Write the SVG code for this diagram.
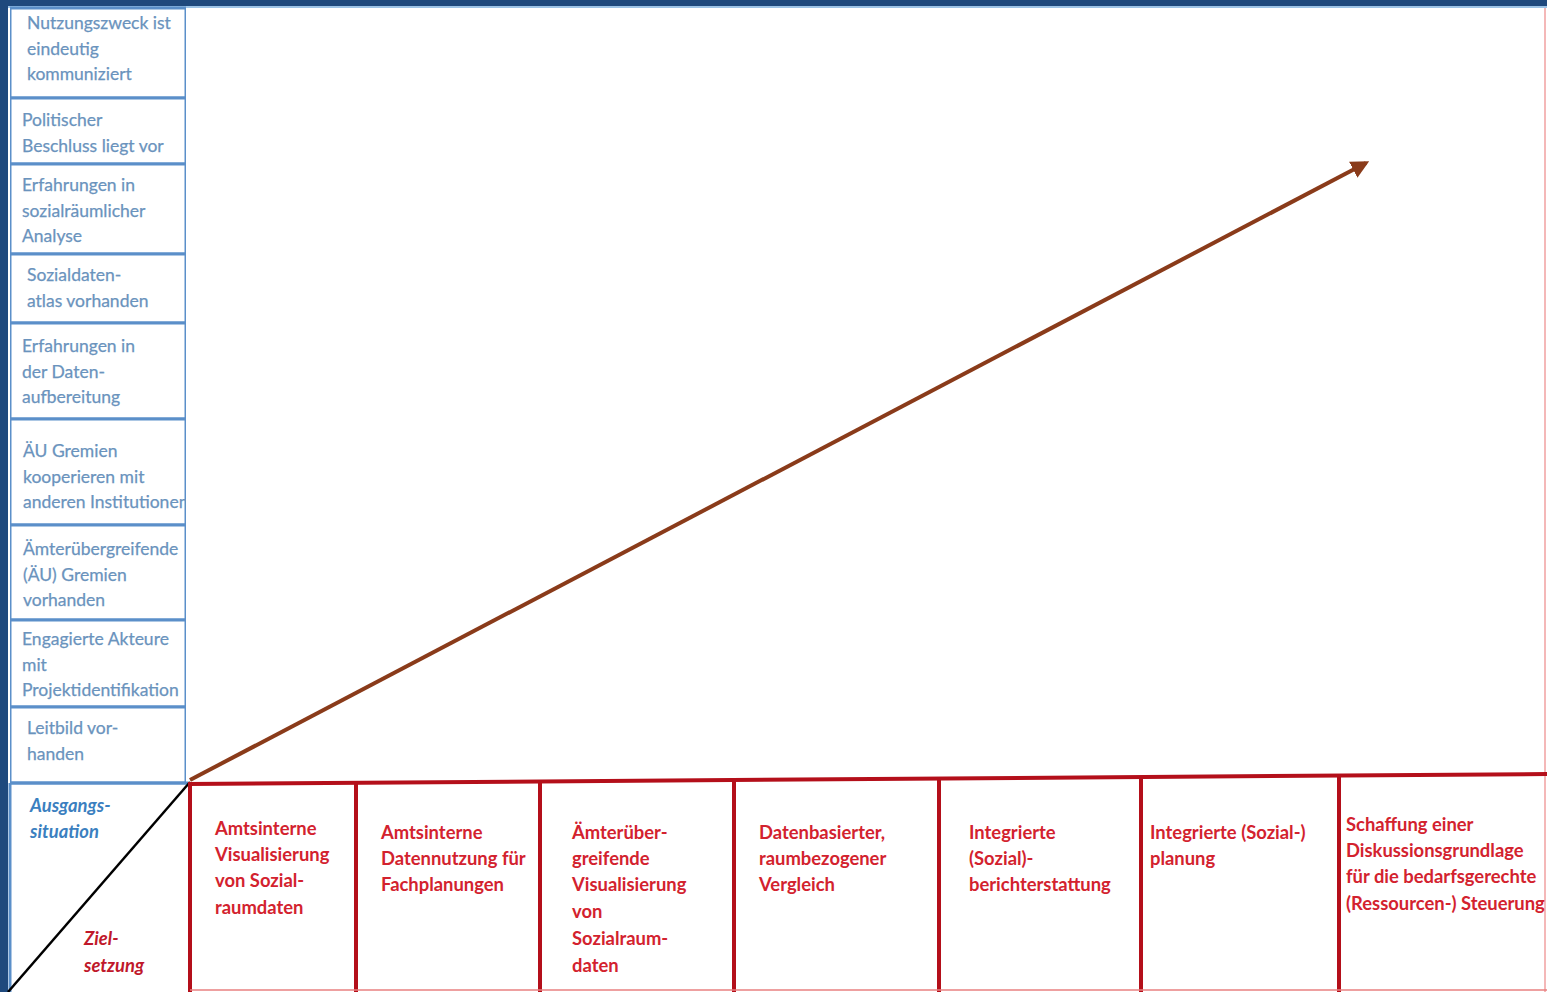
<svg xmlns="http://www.w3.org/2000/svg" width="1547" height="992" viewBox="0 0 1547 992">
  <style>
    .pre { font-family: Lato, "Open Sans", "Liberation Sans", sans-serif; font-size: 17.5px; fill: #6a93bd; stroke: #6a93bd; stroke-width: 0.25; }
    .goal { font-family: Lato, "Open Sans", "Liberation Sans", sans-serif; font-size: 18.4px; font-weight: bold; fill: #d3222e; }
    .bcell { fill: #ffffff; stroke: #5b8fc9; stroke-width: 3; }
    .rline { stroke: #b40f1a; stroke-width: 4; fill: none; }
  </style>
  <defs>
    <marker id="arrowhead" viewBox="0 0 10 10" refX="8" refY="5" markerWidth="4.5" markerHeight="4.5" orient="auto">
      <path d="M0,0 L10,5 L0,10 z" fill="#8a3b1a"/>
    </marker>
    <clipPath id="leftcol">
      <rect x="10" y="6" width="176" height="780"/>
    </clipPath>
  </defs>

  <!-- canvas and frame -->
  <rect x="0" y="0" width="1547" height="992" fill="#ffffff"/>
  <rect x="0" y="0" width="1547" height="6" fill="#1f497d"/>
  <rect x="0" y="6" width="1547" height="2" fill="#9dc3e6"/>
  <rect x="0" y="0" width="8" height="992" fill="#1f497d"/>
  <line x1="1545" y1="8" x2="1545" y2="992" stroke="#f0a0a0" stroke-width="1.5"/>

  <!-- preconditions column -->
  <g id="preconditions" clip-path="url(#leftcol)">
    <g id="pre-1">
      <rect class="bcell" x="10" y="8" width="176" height="90"/>
      <text class="pre" x="27" y="29">Nutzungszweck ist</text>
      <text class="pre" x="27" y="55">eindeutig</text>
      <text class="pre" x="27" y="80">kommuniziert</text>
    </g>
    <g id="pre-2">
      <rect class="bcell" x="10" y="98" width="176" height="66"/>
      <text class="pre" x="22" y="126">Politischer</text>
      <text class="pre" x="22" y="152">Beschluss liegt vor</text>
    </g>
    <g id="pre-3">
      <rect class="bcell" x="10" y="164" width="176" height="90"/>
      <text class="pre" x="22" y="191">Erfahrungen in</text>
      <text class="pre" x="22" y="217">sozialräumlicher</text>
      <text class="pre" x="22" y="242">Analyse</text>
    </g>
    <g id="pre-4">
      <rect class="bcell" x="10" y="254" width="176" height="69"/>
      <text class="pre" x="27" y="281">Sozialdaten-</text>
      <text class="pre" x="27" y="307">atlas vorhanden</text>
    </g>
    <g id="pre-5">
      <rect class="bcell" x="10" y="323" width="176" height="96"/>
      <text class="pre" x="22" y="352">Erfahrungen in</text>
      <text class="pre" x="22" y="378">der Daten-</text>
      <text class="pre" x="22" y="403">aufbereitung</text>
    </g>
    <g id="pre-6">
      <rect class="bcell" x="10" y="419" width="176" height="106"/>
      <text class="pre" x="23" y="457">ÄU Gremien</text>
      <text class="pre" x="23" y="483">kooperieren mit</text>
      <text class="pre" x="23" y="508">anderen Institutionen</text>
    </g>
    <g id="pre-7">
      <rect class="bcell" x="10" y="525" width="176" height="95"/>
      <text class="pre" x="23" y="555">Ämterübergreifende</text>
      <text class="pre" x="23" y="581">(ÄU) Gremien</text>
      <text class="pre" x="23" y="606">vorhanden</text>
    </g>
    <g id="pre-8">
      <rect class="bcell" x="10" y="620" width="176" height="87"/>
      <text class="pre" x="22" y="645">Engagierte Akteure</text>
      <text class="pre" x="22" y="671">mit</text>
      <text class="pre" x="22" y="696">Projektidentifikation</text>
    </g>
    <g id="pre-9">
      <rect class="bcell" x="10" y="707" width="176" height="76"/>
      <text class="pre" x="27" y="734">Leitbild vor-</text>
      <text class="pre" x="27" y="760">handen</text>
    </g>
  </g>

  <!-- corner cell with diagonal split -->
  <g id="corner">
    <line x1="10" y1="783" x2="10" y2="992" stroke="#5b8fc9" stroke-width="3"/>
    <line x1="10" y1="783" x2="188" y2="783" stroke="#5b8fc9" stroke-width="3"/>
    <line x1="8" y1="992" x2="190" y2="782" stroke="#000000" stroke-width="2.5"/>
    <text class="goal" x="30" y="812" style="font-style:italic;fill:#3b7fc0">Ausgangs-</text>
    <text class="goal" x="30" y="838" style="font-style:italic;fill:#3b7fc0">situation</text>
    <text class="goal" x="84" y="945" style="font-style:italic;fill:#c0182a">Ziel-</text>
    <text class="goal" x="84" y="972" style="font-style:italic;fill:#c0182a">setzung</text>
  </g>

  <!-- goals row -->
  <g id="goals-grid">
    <line class="rline" x1="188" y1="784" x2="1547" y2="774"/>
    <line class="rline" x1="190" y1="782" x2="190" y2="992"/>
    <line class="rline" x1="356" y1="783" x2="356" y2="992"/>
    <line class="rline" x1="540" y1="782" x2="540" y2="992"/>
    <line class="rline" x1="734" y1="780" x2="734" y2="992"/>
    <line class="rline" x1="939" y1="779" x2="939" y2="992"/>
    <line class="rline" x1="1141" y1="777" x2="1141" y2="992"/>
    <line class="rline" x1="1339" y1="776" x2="1339" y2="992"/>
    <line x1="190" y1="990" x2="1547" y2="990" stroke="#e88080" stroke-width="1.5"/>
  </g>
  <g id="goal-1">
    <text class="goal" x="215" y="835">Amtsinterne</text>
    <text class="goal" x="215" y="861">Visualisierung</text>
    <text class="goal" x="215" y="887">von Sozial-</text>
    <text class="goal" x="215" y="914">raumdaten</text>
  </g>
  <g id="goal-2">
    <text class="goal" x="381" y="839">Amtsinterne</text>
    <text class="goal" x="381" y="865">Datennutzung für</text>
    <text class="goal" x="381" y="891">Fachplanungen</text>
  </g>
  <g id="goal-3">
    <text class="goal" x="572" y="839">Ämterüber-</text>
    <text class="goal" x="572" y="865">greifende</text>
    <text class="goal" x="572" y="891">Visualisierung</text>
    <text class="goal" x="572" y="918">von</text>
    <text class="goal" x="572" y="945">Sozialraum-</text>
    <text class="goal" x="572" y="972">daten</text>
  </g>
  <g id="goal-4">
    <text class="goal" x="759" y="839">Datenbasierter,</text>
    <text class="goal" x="759" y="865">raumbezogener</text>
    <text class="goal" x="759" y="891">Vergleich</text>
  </g>
  <g id="goal-5">
    <text class="goal" x="969" y="839">Integrierte</text>
    <text class="goal" x="969" y="865">(Sozial)-</text>
    <text class="goal" x="969" y="891">berichterstattung</text>
  </g>
  <g id="goal-6">
    <text class="goal" x="1150" y="839">Integrierte (Sozial-)</text>
    <text class="goal" x="1150" y="865">planung</text>
  </g>
  <g id="goal-7">
    <text class="goal" x="1346" y="831">Schaffung einer</text>
    <text class="goal" x="1346" y="857">Diskussionsgrundlage</text>
    <text class="goal" x="1346" y="883">für die bedarfsgerechte</text>
    <text class="goal" x="1346" y="910">(Ressourcen-) Steuerung</text>
  </g>

  <!-- development arrow -->
  <g id="connectors">
    <line x1="190" y1="780" x2="1366" y2="163" stroke="#8a3b1a" stroke-width="4" marker-end="url(#arrowhead)"/>
  </g>
</svg>
